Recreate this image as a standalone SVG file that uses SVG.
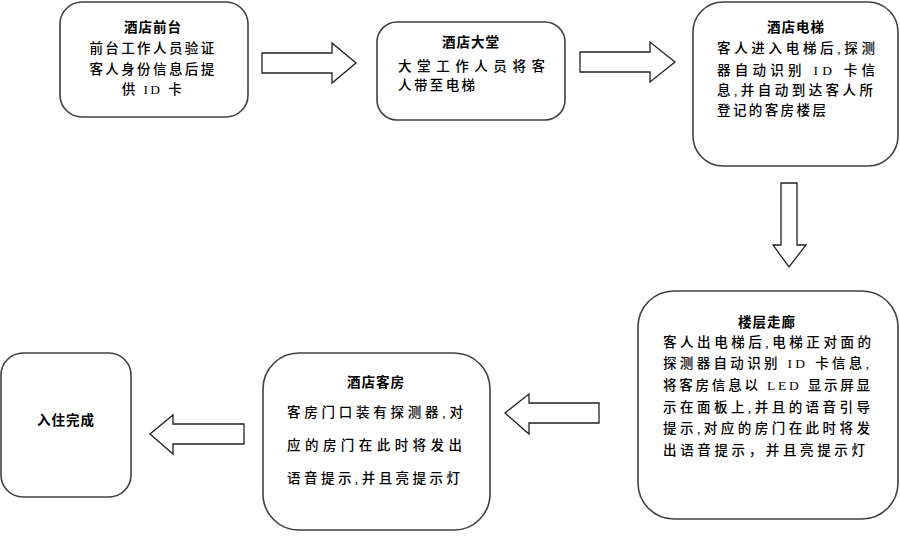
<svg xmlns="http://www.w3.org/2000/svg" width="900" height="542" viewBox="0 0 900 542">
<style>
.box{fill:#fff;stroke:#404040;stroke-width:1.6}
.arr{fill:#fff;stroke:#202020;stroke-width:1.3;stroke-linejoin:miter}
text{font-family:"Liberation Serif","Noto Sans CJK SC",serif;font-size:13.5px;fill:#000;font-weight:500}
.t{font-weight:bold;text-anchor:middle;letter-spacing:1px}
.c{text-anchor:middle;letter-spacing:2.4px}
.l{letter-spacing:2.4px}
</style>
<rect width="900" height="542" fill="#fff"/>
<g id="connectors">
<path class="arr" d="M262,53 H332 V43 L356,63 L332,83 V73 H262 Z"/>
<path class="arr" d="M580,52 H650 V42 L675,62 L650,82 V72 H580 Z"/>
<path class="arr" d="M781,183 H797 V245 H806 L789,267 L773,245 H781 Z"/>
<path class="arr" d="M599,403 H529 V394 L505,413 L529,434 V423 H599 Z"/>
<path class="arr" d="M244,424 H173 V415 L150,434 L173,454 V444 H244 Z"/>
</g>
<g id="node-front-desk">
<rect class="box" x="60" y="2" width="188" height="115" rx="22"/>
<text class="t" x="153" y="32">酒店前台</text>
<text class="c" x="153" y="53">前台工作人员验证</text>
<text class="c" x="153" y="74">客人身份信息后提</text>
<text class="c" x="153" y="94">供 ID 卡</text>
</g>
<g id="node-lobby">
<rect class="box" x="377" y="22" width="188" height="98" rx="20"/>
<text class="t" x="471" y="47">酒店大堂</text>
<text x="398" y="71" textLength="147" lengthAdjust="spacing">大堂工作人员将客</text>
<text class="l" x="398" y="90">人带至电梯</text>
</g>
<g id="node-elevator">
<rect class="box" x="693" y="2" width="205" height="164" rx="30"/>
<text class="t" x="796" y="32">酒店电梯</text>
<text x="717" y="53" textLength="158" lengthAdjust="spacing">客人进入电梯后,探测</text>
<text x="717" y="75" textLength="158" lengthAdjust="spacing">器自动识别 ID 卡信</text>
<text x="717" y="95" textLength="156" lengthAdjust="spacing">息,并自动到达客人所</text>
<text class="l" x="717" y="115">登记的客房楼层</text>
</g>
<g id="node-corridor">
<rect class="box" x="638" y="291" width="260" height="228" rx="36"/>
<text class="t" x="767" y="327">楼层走廊</text>
<text x="663" y="347" textLength="208" lengthAdjust="spacing">客人出电梯后,电梯正对面的</text>
<text x="663" y="368" textLength="206" lengthAdjust="spacing">探测器自动识别 ID 卡信息,</text>
<text x="663" y="390" textLength="207" lengthAdjust="spacing">将客房信息以 LED 显示屏显</text>
<text x="663" y="412" textLength="207" lengthAdjust="spacing">示在面板上,并且的语音引导</text>
<text x="663" y="433" textLength="207" lengthAdjust="spacing">提示,对应的房门在此时将发</text>
<text x="663" y="455" textLength="202" lengthAdjust="spacing">出语音提示，并且亮提示灯</text>
</g>
<g id="node-room">
<rect class="box" x="263" y="353" width="227" height="177" rx="36"/>
<text class="t" x="376" y="387">酒店客房</text>
<text x="287" y="417" textLength="176" lengthAdjust="spacing">客房门口装有探测器,对</text>
<text x="287" y="450" textLength="175" lengthAdjust="spacing">应的房门在此时将发出</text>
<text x="287" y="483" textLength="173" lengthAdjust="spacing">语音提示,并且亮提示灯</text>
</g>
<g id="node-done">
<rect class="box" x="1" y="353" width="130" height="144" rx="22"/>
<text class="t" x="66" y="425">入住完成</text>
</g>
</svg>
